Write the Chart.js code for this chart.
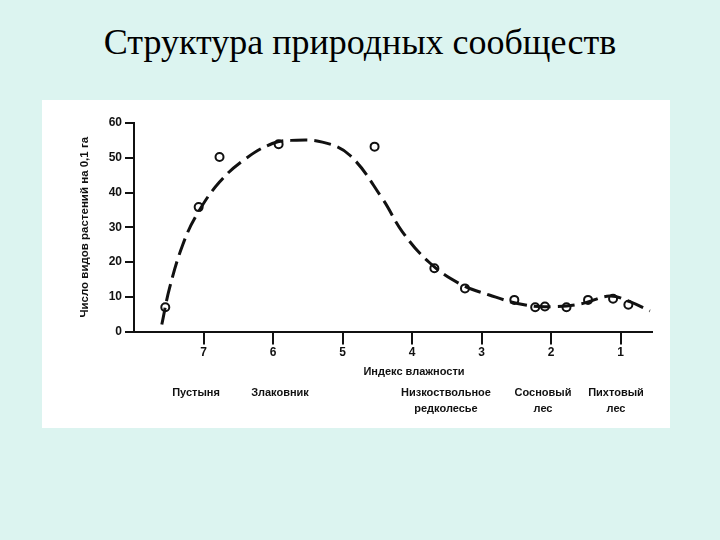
<!DOCTYPE html>
<html>
<head>
<meta charset="utf-8">
<script src="https://cdn.jsdelivr.net/npm/chart.js@4"></script>
<style>
  body { margin: 0; width: 720px; height: 540px; background: #dcf4f0; position: relative; overflow: hidden; }
  #title { position: absolute; left: 0; top: 21px; width: 720px; text-align: center;
           font-family: "Liberation Serif", "Times New Roman", serif; font-size: 36px; color: #000; }
  #box { position: absolute; left: 42px; top: 100px; width: 628px; height: 328px; background: #fff; }
</style>
</head>
<body>
<div id="title">Структура природных сообществ</div>
<div id="box"><canvas id="myChart" width="628" height="328"></canvas></div>
<script>
// observed points (moisture index, species per 0.1 ha)
const pointX = [7.55, 7.07, 6.77, 5.92, 4.54, 3.68, 3.24, 2.53, 2.23, 2.09, 1.78, 1.47, 1.11, 0.89];
const pointY = [7, 35.8, 50.2, 53.9, 53.2, 18.2, 12.4, 9.1, 7.0, 7.2, 7.0, 9.1, 9.4, 7.7];
// dashed trend curve
const curveX = [7.6, 7.49, 7.3, 7.1, 6.77, 6.39, 6.01, 5.74, 5.29, 4.9, 4.43, 4.14, 3.76, 3.33, 2.89, 2.37, 1.93, 1.54, 1.16, 0.87, 0.58];
const curveY = [2, 12.4, 24.9, 33.5, 43, 49.8, 54.1, 55, 54.5, 50.8, 38.3, 28.7, 20, 13.9, 10.5, 7.6, 7.2, 8.1, 10.2, 8.6, 5.9];
const xTicks = [7, 6, 5, 4, 3, 2, 1];
const yTicks = [0, 10, 20, 30, 40, 50, 60];
// community names: [line1, line2, pixel x center]
const communities = [
    ['Пустыня', '', 196],
    ['Злаковник', '', 280],
    ['Низкоствольное', 'редколесье', 446],
    ['Сосновый', 'лес', 543],
    ['Пихтовый', 'лес', 616]
];

const toXY = (xs, ys) => xs.map((x, i) => ({x: x, y: ys[i]}));
const boldFont = '"Liberation Sans", Arial, sans-serif';

const labelsPlugin = {
    id: 'communityLabels',
    afterDraw(chart) {
        const ctx = chart.ctx;
        ctx.save();
        ctx.fillStyle = '#111';
        ctx.textAlign = 'center';
        ctx.textBaseline = 'middle';
        ctx.font = 'bold 11px ' + boldFont;
        ctx.fillText('Индекс влажности', 414 - 42, 372 - 100);
        communities.forEach(c => {
            ctx.fillText(c[0], c[2] - 42, 393 - 100);
            if (c[1]) ctx.fillText(c[1], c[2] - 42, 409 - 100);
        });
        ctx.restore();
    }
};

let myChart = document.getElementById('myChart').getContext('2d');
let speciesChart = new Chart(myChart, {
    type: 'scatter',
    data: {
        datasets: [{
            label: 'curve',
            data: toXY(curveX, curveY),
            showLine: true,
            borderColor: '#111',
            borderWidth: 3,
            borderDash: [17, 7],
            tension: 0.4,
            pointRadius: 0,
            fill: false
        }, {
            label: 'points',
            data: toXY(pointX, pointY),
            showLine: false,
            pointRadius: 4,
            pointBorderWidth: 2,
            pointBorderColor: '#111',
            pointBackgroundColor: '#fff'
        }]
    },
    options: {
        responsive: false,
        animation: false,
        layout: { padding: { top: 23, right: 18, left: 0, bottom: 0 } },
        plugins: { legend: { display: false }, tooltip: { enabled: false } },
        scales: {
            x: {
                type: 'linear',
                reverse: true,
                min: 0.55,
                max: 8,
                afterBuildTicks: scale => { scale.ticks = xTicks.map(v => ({value: v})); },
                afterFit: scale => { scale.height = 96.5; },
                border: { color: '#111', width: 2 },
                grid: { drawOnChartArea: false, drawTicks: true, tickLength: 13, color: '#111', lineWidth: 2 },
                ticks: { color: '#111', padding: 1, font: { family: boldFont, size: 12, weight: 'bold' } }
            },
            y: {
                min: 0,
                max: 60,
                afterBuildTicks: scale => { scale.ticks = yTicks.map(v => ({value: v})); },
                afterFit: scale => { scale.width = 92; },
                border: { color: '#111', width: 2 },
                grid: { drawOnChartArea: false, drawTicks: true, tickLength: 9, color: '#111', lineWidth: 2 },
                ticks: { color: '#111', padding: 3, font: { family: boldFont, size: 12, weight: 'bold' } },
                title: {
                    display: true,
                    text: 'Число видов растений на 0,1 га',
                    color: '#111',
                    padding: { top: 36, bottom: 0 },
                    font: { family: boldFont, size: 11.5, weight: 'bold' }
                }
            }
        }
    },
    plugins: [labelsPlugin]
});
</script>
</body>
</html>
